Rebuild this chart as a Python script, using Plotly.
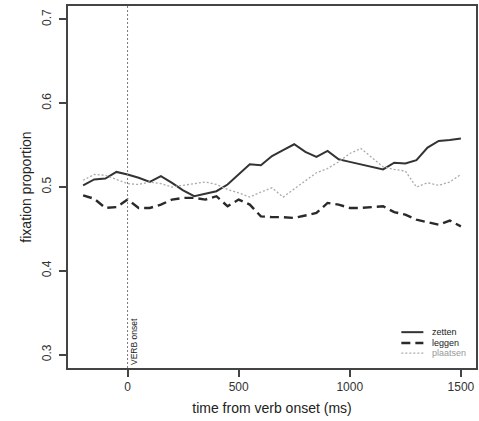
import plotly.graph_objects as go

time_ms = [-200, -150, -100, -50, 0, 50, 100, 150, 200, 250, 300, 350, 400, 450, 500, 550, 600,
           650, 700, 750, 800, 850, 900, 950, 1000, 1050, 1100, 1150, 1200, 1250, 1300, 1350,
           1400, 1450, 1500]

zetten = [0.502, 0.509, 0.510, 0.518, 0.515, 0.511, 0.506, 0.513, 0.505, 0.496, 0.489, 0.492,
          0.495, 0.503, 0.515, 0.527, 0.526, 0.537, 0.544, 0.551, 0.542, 0.536, 0.543, 0.533,
          0.530, 0.527, 0.524, 0.521, 0.529, 0.528, 0.532, 0.547, 0.555, 0.556, 0.558]

leggen = [0.490, 0.486, 0.475, 0.476, 0.485, 0.475, 0.475, 0.479, 0.485, 0.487, 0.487, 0.485,
          0.489, 0.477, 0.485, 0.479, 0.465, 0.464, 0.464, 0.463, 0.466, 0.469, 0.481, 0.479,
          0.475, 0.475, 0.476, 0.477, 0.470, 0.467, 0.461, 0.458, 0.455, 0.460, 0.453]

plaatsen = [0.508, 0.515, 0.514, 0.509, 0.504, 0.503, 0.506, 0.504, 0.500, 0.502, 0.504, 0.506,
            0.503, 0.497, 0.493, 0.488, 0.494, 0.499, 0.488, 0.498, 0.507, 0.517, 0.522, 0.530,
            0.540, 0.546, 0.535, 0.524, 0.521, 0.519, 0.500, 0.505, 0.502, 0.506, 0.515]

series_names = ["zetten", "leggen", "plaatsen"]
x_ticks = [0, 500, 1000, 1500]
y_ticks = [0.3, 0.4, 0.5, 0.6, 0.7]
y_tick_labels = ["0.3", "0.4", "0.5", "0.6", "0.7"]
onset_label = "VERB onset"

FONT = "Liberation Sans, Arial, Helvetica, sans-serif"
styles = [
    dict(color="#333333", width=2, dash="solid"),
    dict(color="#2a2a2a", width=2.4, dash="9px,5px"),
    dict(color="#aaaaaa", width=1.3, dash="2px,2px"),
]
text_colors = ["#222222", "#222222", "#999999"]

fig = go.Figure()
for name, vals, st in zip(series_names, [zetten, leggen, plaatsen], styles):
    fig.add_trace(go.Scatter(x=time_ms, y=vals, mode="lines", name=name, line=st,
                             showlegend=False))

# verb onset line
fig.add_shape(type="line", xref="x", yref="paper", x0=0, x1=0, y0=0, y1=1,
              line=dict(color="#777777", width=1, dash="2px,2px"))
fig.add_annotation(x=0, y=0.003, xref="x", yref="paper", text=onset_label, showarrow=False,
                   textangle=-90, xanchor="left", yanchor="bottom", xshift=0,
                   font=dict(family=FONT, size=8.5, color="#222222"))

# legend (manual)
leg_y = [0.099, 0.069, 0.041]
for name, st, tc, ly in zip(series_names, styles, text_colors, leg_y):
    fig.add_shape(type="line", xref="paper", yref="paper", x0=0.817, x1=0.871, y0=ly, y1=ly,
                  line=st)
    fig.add_annotation(x=0.888, y=ly, xref="paper", yref="paper", text=name, showarrow=False,
                       xanchor="left", yanchor="middle",
                       font=dict(family=FONT, size=9, color=tc))

fig.update_layout(
    width=479, height=421,
    margin=dict(l=68, r=1, t=6, b=53),
    plot_bgcolor="white", paper_bgcolor="white",
    font=dict(family=FONT, size=12, color="#333333"),
    showlegend=False,
)
fig.update_xaxes(
    range=[-268, 1568], tickvals=x_ticks, ticks="outside", ticklen=7, tickwidth=1.5,
    tickcolor="#444444", showline=True, linecolor="#444444", linewidth=1.5, mirror=True,
    showgrid=False, zeroline=False,
    tickfont=dict(family=FONT, size=12, color="#333333"),
    title=dict(text="time from verb onset (ms)", standoff=10,
               font=dict(family=FONT, size=14, color="#222222")),
)
fig.update_yaxes(
    range=[0.284, 0.716], tickvals=y_ticks, ticktext=y_tick_labels, tickangle=-90,
    ticks="outside", ticklen=7, tickwidth=1.5, tickcolor="#444444",
    showline=True, linecolor="#444444", linewidth=1.5, mirror=True,
    showgrid=False, zeroline=False,
    tickfont=dict(family=FONT, size=12, color="#333333"),
    ticklabelstandoff=3,
    title=dict(text="fixation proportion", standoff=6,
               font=dict(family=FONT, size=14, color="#222222")),
)

fig.write_html("out.html", config={"displayModeBar": False},
               post_script="document.body.style.margin='0';document.body.style.overflow='hidden';")
